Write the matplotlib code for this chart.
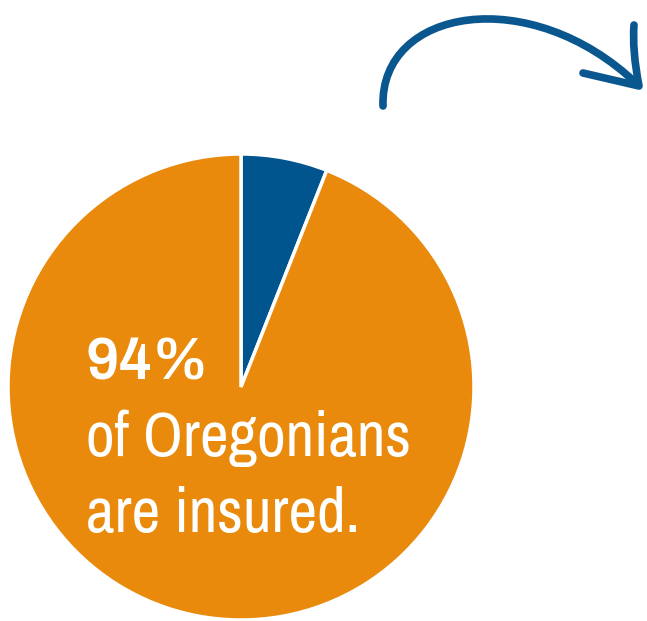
import matplotlib
matplotlib.use("Agg")
import matplotlib.pyplot as plt
from matplotlib.path import Path
from matplotlib.patches import PathPatch

labels = ["Uninsured", "Insured"]
values = [6, 94]
colors = ["#00558F", "#E98A0C"]
headline = "94%"
lines = ["of Oregonians", "are insured."]

W, H = 647, 621
fig = plt.figure(figsize=(W / 100, H / 100), dpi=100)
ax = fig.add_axes([0, 0, 1, 1])

cx, cy, r = 241, H - 387, 233
ax.pie(values, colors=colors, startangle=90, counterclock=False,
       center=(cx, cy), radius=r, frame=True,
       wedgeprops=dict(edgecolor="white", linewidth=2.5))
ax.set_xlim(0, W)
ax.set_ylim(0, H)
ax.set_aspect("equal")
ax.axis("off")

ax.text(86, H - 380, headline, color="white", fontsize=42, fontweight="bold",
        family=["Archivo", "DejaVu Sans"], ha="left", va="baseline")
ax.text(86, H - 456, lines[0], color="white", fontsize=45,
        family=["Archivo Narrow", "DejaVu Sans"], ha="left", va="baseline")
ax.text(86, H - 532, lines[1], color="white", fontsize=45,
        family=["Archivo Narrow", "DejaVu Sans"], ha="left", va="baseline")

def P(x, y):
    return (x, H - y)

arrow_col = "#0A568F"
curve = Path([P(383, 106), P(380, 8), P(530, -18), P(637, 84)],
             [Path.MOVETO, Path.CURVE4, Path.CURVE4, Path.CURVE4])
ax.add_patch(PathPatch(curve, fill=False, edgecolor=arrow_col, lw=5.5,
                       capstyle="round"))
head = Path([P(634, 25), P(632, 50), P(639, 86), P(583, 73)],
            [Path.MOVETO, Path.CURVE3, Path.CURVE3, Path.LINETO])
ax.add_patch(PathPatch(head, fill=False, edgecolor=arrow_col, lw=5.5,
                       capstyle="round", joinstyle="round"))

fig.savefig("out.png", dpi=100, facecolor="white")
